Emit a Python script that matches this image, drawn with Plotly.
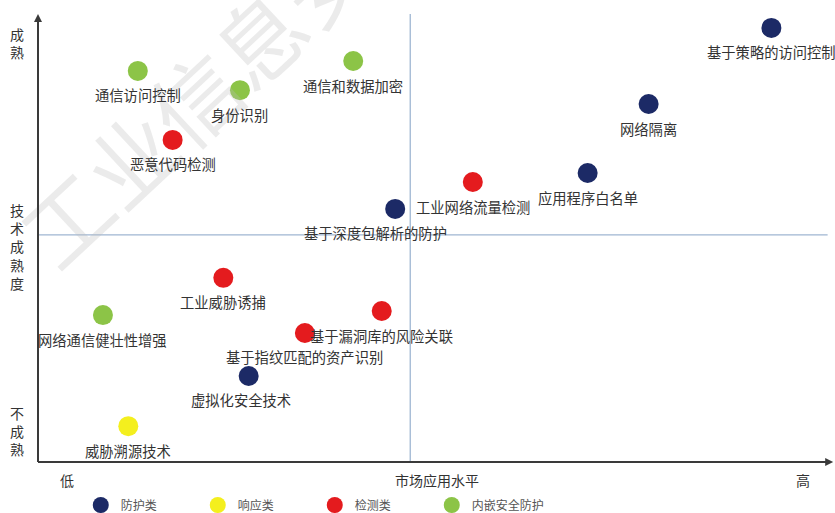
import plotly.graph_objects as go

# ---- data (market application level 0-100, technology maturity 0-100) ----
tech_names = ["基于策略的访问控制", "网络隔离", "应用程序白名单", "工业网络流量检测",
              "基于深度包解析的防护", "通信和数据加密", "通信访问控制", "身份识别",
              "恶意代码检测", "工业威胁诱捕", "网络通信健壮性增强", "基于漏洞库的风险关联",
              "基于指纹匹配的资产识别", "虚拟化安全技术", "威胁溯源技术"]
market_level = [92.6, 77.1, 69.4, 54.9, 45.1, 39.8, 12.6, 25.5, 17.0, 23.4, 8.2, 43.4, 33.7, 26.6, 11.4]
maturity = [96.9, 79.9, 64.5, 62.5, 56.5, 89.5, 87.3, 83.0, 71.9, 41.1, 32.8, 33.7, 28.8, 19.2, 8.0]
tech_class = ["防护类", "防护类", "防护类", "检测类", "防护类", "内嵌安全防护", "内嵌安全防护",
              "内嵌安全防护", "检测类", "检测类", "内嵌安全防护", "检测类", "检测类", "防护类", "响应类"]

class_order = ["防护类", "响应类", "检测类", "内嵌安全防护"]
class_colors = {"防护类": "#1c2a66", "响应类": "#f4ef1e", "检测类": "#e41b1e", "内嵌安全防护": "#8cc447"}

market_split = 47.0
maturity_split = 50.7

x_ticks = ["低", "市场应用水平", "高"]
y_ticks = ["成熟", "技术成熟度", "不成熟"]

# label nudges (style only)
label_dx = {"基于深度包解析的防护": -20, "虚拟化安全技术": -8}

FONT = "Noto Sans CJK SC, Noto Sans, sans-serif"

fig = go.Figure()

for cls in class_order:
    xs = [x for x, c in zip(market_level, tech_class) if c == cls]
    ys = [y for y, c in zip(maturity, tech_class) if c == cls]
    fig.add_trace(go.Scatter(
        x=xs, y=ys, mode="markers", name=cls,
        marker=dict(size=20, color=class_colors[cls], line=dict(width=0)),
        hoverinfo="skip",
    ))

annotations = []

# watermark
annotations.append(dict(
    x=(225 - 38) / 792, y=(462 - 66) / 448, xref="paper", yref="paper",
    xanchor="center", yanchor="middle", text="工业信息安全", showarrow=False,
    font=dict(family=FONT, size=88, color="rgba(190,190,190,0.3)"), textangle=-43,
))

for n, x, y in zip(tech_names, market_level, maturity):
    annotations.append(dict(
        x=x, y=y, xref="x", yref="y", text=n, showarrow=False,
        yshift=-24, xshift=label_dx.get(n, 0),
        font=dict(family=FONT, size=14.3, color="#333333"),
    ))

# axis arrows
annotations.append(dict(x=0, y=1.0, ax=0, ay=0.5, xref="x domain", yref="y domain",
                        axref="x domain", ayref="y domain", showarrow=True, arrowhead=2,
                        arrowsize=0.8, arrowwidth=2, arrowcolor="#3a3a3a", text=""))
annotations.append(dict(x=1.004, y=0, ax=0.5, ay=0, xref="x domain", yref="y domain",
                        axref="x domain", ayref="y domain", showarrow=True, arrowhead=2,
                        arrowsize=0.8, arrowwidth=2, arrowcolor="#3a3a3a", text=""))

# x-axis texts
tick_pos_x = [3.7, 50.4, 96.6]
for t, px in zip(x_ticks, tick_pos_x):
    annotations.append(dict(x=px, y=0, xref="x", yref="paper", yanchor="top", yshift=-6,
                            text=t, showarrow=False,
                            font=dict(family=FONT, size=14, color="#333333")))
# y-axis texts (vertical stacked)
tick_pos_y = [93.5, 48.2, 6.9]
for t, py in zip(y_ticks, tick_pos_y):
    annotations.append(dict(x=0, y=py, xref="paper", yref="y", xanchor="right", xshift=-12,
                            text="<br>".join(list(t)), showarrow=False, align="center",
                            font=dict(family=FONT, size=14, color="#333333")))

shapes = [
    dict(type="line", xref="x", yref="paper", x0=market_split, x1=market_split, y0=0, y1=1.0,
         line=dict(color="#9fb6d2", width=1.3)),
    dict(type="line", xref="paper", yref="y", x0=0, x1=0.997, y0=maturity_split, y1=maturity_split,
         line=dict(color="#9fb6d2", width=1.3)),
    dict(type="line", xref="paper", yref="paper", x0=0, x1=0, y0=0, y1=0.99,
         line=dict(color="#3a3a3a", width=2)),
    dict(type="line", xref="paper", yref="paper", x0=0, x1=0.995, y0=0, y1=0,
         line=dict(color="#3a3a3a", width=2)),
]

fig.update_layout(
    width=835, height=513,
    margin=dict(l=38, r=5, t=14, b=51, autoexpand=False),
    paper_bgcolor="white", plot_bgcolor="white",
    xaxis=dict(range=[0, 100], visible=False, fixedrange=True),
    yaxis=dict(range=[0, 100], visible=False, fixedrange=True),
    showlegend=True,
    legend=dict(orientation="h", x=0.054, y=-0.096, xanchor="left", yanchor="middle",
                font=dict(family=FONT, size=12, color="#555555"),
                entrywidth=72, entrywidthmode="pixels", itemsizing="trace",
                bgcolor="rgba(0,0,0,0)"),
    annotations=annotations,
    shapes=shapes,
)

fig.write_html("out.html", config={"displayModeBar": False},
               post_script="document.body.style.margin='0px';"
                           "document.body.style.overflow='hidden';")
